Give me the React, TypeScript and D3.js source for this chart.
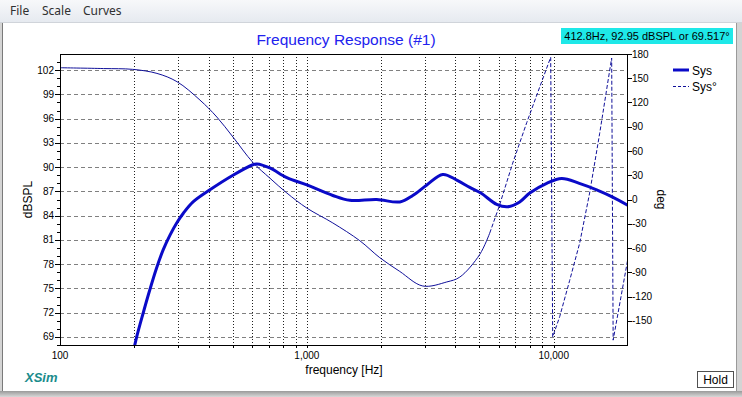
import React from 'react';
import * as d3 from 'd3';

// frequency axis
const freqMajor = [100, 1000, 10000];
const freqMajorLabels = ['100', '1,000', '10,000'];
const freqGrid = [200, 300, 400, 500, 600, 700, 800, 900, 1000, 2000, 3000, 4000, 5000, 6000, 7000, 8000, 9000, 10000];

// left axis (dBSPL)
const dbTicks = [69, 72, 75, 78, 81, 84, 87, 90, 93, 96, 99, 102];
const dbMinor = [68, 70, 71, 73, 74, 76, 77, 79, 80, 82, 83, 85, 86, 88, 89, 91, 92, 94, 95, 97, 98, 100, 101, 103];

// right axis (deg)
const phaseTicks = [-150, -120, -90, -60, -30, 0, 30, 60, 90, 120, 150, 180];

// Sys magnitude
const magFreq = [195, 204.5, 217, 231, 246, 262, 279, 297, 316, 346, 405, 502, 604, 628, 708, 830, 1000, 1274, 1493, 1920, 2380, 2686, 3062, 3553, 4050, 4571, 5070, 5877, 6513, 7283, 8000, 9368, 10776, 12700, 14930, 17337, 19930];
const magDb = [66.2, 69.0, 71.9, 74.8, 77.5, 79.8, 81.6, 83.1, 84.3, 85.7, 87.2, 89.0, 90.3, 90.4, 89.9, 88.7, 87.8, 86.5, 85.9, 86.0, 85.7, 86.5, 87.8, 89.1, 88.4, 87.5, 86.8, 85.4, 85.1, 85.7, 86.8, 88.0, 88.6, 88.0, 87.2, 86.3, 85.3];

// Sys phase (gentle part, drawn solid)
const phaseFreqA = [100, 150, 197, 247, 298, 369, 432, 502, 604, 708, 830, 1000, 1274, 1639, 1975, 2380, 2949, 3689, 4164, 5016, 5507];
const phaseDegA = [163, 162, 161, 156, 145.7, 123, 102, 77.3, 46, 26.5, 8, -10.6, -29, -51, -72, -89, -107, -102, -96, -68, -41.5];
// Sys phase (steep, wrapping part, drawn dashed)
const phaseFreqB = [5507, 6005, 6823, 7775, 8776, 9724, 9908, 10575, 11610, 12742, 13984, 15360, 16545, 17173, 17413, 19930];
const phaseDegB = [-41.5, -9, 45, 95, 139, 176, -170, -145, -100, -54, 8, 82, 144, 175, -174, -75];

const FONT = '"Liberation Sans", Arial, sans-serif';
const W = 742;
const H = 397;
const plot = { left: 60, right: 628, top: 54, bottom: 345 };

const App: React.FC = () => {
  const x = d3.scaleLog().domain([100, 20000]).range([plot.left, plot.right]);
  const y = d3.scaleLinear().domain([68, 104]).range([plot.bottom, plot.top]);
  const yp = d3.scaleLinear().domain([-180, 180]).range([plot.bottom, plot.top]);

  const magLine = d3.line<number>()
    .x((_, i) => x(magFreq[i]))
    .y(d => y(d))
    .curve(d3.curveCatmullRom.alpha(0.5));

  const phaseLineA = d3.line<number>()
    .x((_, i) => x(phaseFreqA[i]))
    .y(d => yp(d))
    .curve(d3.curveCatmullRom.alpha(0.5));

  const phaseLineB = d3.line<number>()
    .x((_, i) => x(phaseFreqB[i]))
    .y(d => yp(d));

  const cx = (plot.left + plot.right) / 2;
  const cy = (plot.top + plot.bottom) / 2;

  return (
    <svg width={W} height={H} style={{ position: 'fixed', left: 0, top: 0, background: '#fff' }} fontFamily={FONT}>
      <defs>
        <linearGradient id="menu" x1="0" y1="0" x2="0" y2="1">
          <stop offset="0" stopColor="#f7f8fa" />
          <stop offset="1" stopColor="#e6eaf0" />
        </linearGradient>
        <linearGradient id="frameB" x1="0" y1="0" x2="0" y2="1">
          <stop offset="0" stopColor="#9a9a9a" />
          <stop offset="1" stopColor="#d8d8d8" />
        </linearGradient>
        <clipPath id="plotClip">
          <rect x={plot.left} y={plot.top} width={plot.right - plot.left} height={plot.bottom - plot.top} />
        </clipPath>
      </defs>

      {/* window chrome */}
      <rect x={0} y={0} width={W} height={H} fill="#d4d4d4" />
      <rect x={0} y={0} width={W} height={22} fill="url(#menu)" />
      <line x1={0} x2={W} y1={22.5} y2={22.5} stroke="#d0d4da" />
      <rect x={3} y={23} width={733} height={368} fill="#fff" />
      <line x1={2.5} x2={2.5} y1={23} y2={391} stroke="#7a7a7a" />
      <line x1={736.5} x2={736.5} y1={23} y2={391} stroke="#9a9a9a" />
      <rect x={0} y={391} width={W} height={6} fill="url(#frameB)" />
      <text x={10} y={15} fontSize={12} fill="#303030" fontFamily='"Noto Sans", sans-serif'>File</text>
      <text x={42} y={15} fontSize={12} fill="#303030" fontFamily='"Noto Sans", sans-serif'>Scale</text>
      <text x={83} y={15} fontSize={12} fill="#303030" fontFamily='"Noto Sans", sans-serif'>Curves</text>

      {/* title and readout */}
      <text x={346} y={45} textAnchor="middle" fontSize={15.5} fill="#2222ee">Frequency Response (#1)</text>
      <rect x={561} y={28} width={172} height={16} fill="#1ee8e8" />
      <text x={647} y={40} textAnchor="middle" fontSize={11} fill="#000">412.8Hz, 92.95 dBSPL or 69.517°</text>

      {/* grid */}
      {dbTicks.map(d => (
        <line key={'hg' + d} x1={plot.left} x2={plot.right} y1={Math.round(y(d)) + 0.5} y2={Math.round(y(d)) + 0.5}
          stroke="#808080" strokeDasharray="4,3" />
      ))}
      {freqGrid.map(f => (
        <line key={'vg' + f} x1={Math.round(x(f)) + 0.5} x2={Math.round(x(f)) + 0.5} y1={plot.top} y2={plot.bottom}
          stroke="#202020" strokeDasharray="1,2" />
      ))}

      {/* curves */}
      <g clipPath="url(#plotClip)">
        <path d={phaseLineA(phaseDegA) || ''} fill="none" stroke="#10109a" strokeWidth={1} />
        <path d={phaseLineB(phaseDegB) || ''} fill="none" stroke="#10109a" strokeWidth={1} strokeDasharray="4,2" />
        <path d={magLine(magDb) || ''} fill="none" stroke="#0a0ac8" strokeWidth={3} strokeLinejoin="round" />
      </g>

      {/* frame */}
      <rect x={plot.left + 0.5} y={plot.top + 0.5} width={plot.right - plot.left - 1} height={plot.bottom - plot.top}
        fill="none" stroke="#000" />

      {/* left axis */}
      {dbMinor.map(d => (
        <line key={'lm' + d} x1={plot.left - 3} x2={plot.left} y1={Math.round(y(d)) + 0.5} y2={Math.round(y(d)) + 0.5} stroke="#000" />
      ))}
      {dbTicks.map(d => (
        <g key={'lt' + d}>
          <line x1={plot.left - 5} x2={plot.left} y1={Math.round(y(d)) + 0.5} y2={Math.round(y(d)) + 0.5} stroke="#000" />
          <text x={plot.left - 6} y={y(d) + 3.5} textAnchor="end" fontSize={10} fill="#000">{d}</text>
        </g>
      ))}
      <text transform={`translate(32,${cy}) rotate(-90)`} textAnchor="middle" fontSize={12} fill="#000">dBSPL</text>

      {/* right axis */}
      {phaseTicks.map(d => (
        <g key={'rt' + d}>
          <line x1={plot.right} x2={plot.right + 4} y1={Math.round(yp(d)) + 0.5} y2={Math.round(yp(d)) + 0.5} stroke="#000" />
          <text x={plot.right + 4} y={yp(d) + 3.5} fontSize={10} fill="#000">{d}</text>
        </g>
      ))}
      <text transform={`translate(657,${cy}) rotate(90)`} textAnchor="middle" fontSize={12} fill="#000">deg</text>

      {/* bottom axis */}
      {freqGrid.map(f => (
        <line key={'bt' + f} x1={Math.round(x(f)) + 0.5} x2={Math.round(x(f)) + 0.5} y1={plot.bottom} y2={plot.bottom + 3} stroke="#000" />
      ))}
      {freqMajor.map((f, i) => (
        <text key={'bl' + f} x={x(f)} y={plot.bottom + 14} textAnchor="middle" fontSize={10} fill="#000">{freqMajorLabels[i]}</text>
      ))}
      <text x={cx} y={374} textAnchor="middle" fontSize={12} fill="#000">frequency [Hz]</text>

      {/* legend */}
      <line x1={673} x2={689} y1={70} y2={70} stroke="#0a0ac8" strokeWidth={3} />
      <text x={692} y={74.5} fontSize={12} fill="#000">Sys</text>
      <line x1={673} x2={689} y1={86.5} y2={86.5} stroke="#10109a" strokeDasharray="3,2" />
      <text x={692} y={91} fontSize={12} fill="#000">Sys°</text>

      {/* footer */}
      <text x={25} y={382} fontSize={13} fontWeight="bold" fontStyle="italic" fill="#1a8c8c">XSim</text>
      <rect x={697.5} y={371.5} width={36} height={16} fill="#fff" stroke="#505050" />
      <text x={715.5} y={384} textAnchor="middle" fontSize={12} fill="#000">Hold</text>
    </svg>
  );
};

export default App;
